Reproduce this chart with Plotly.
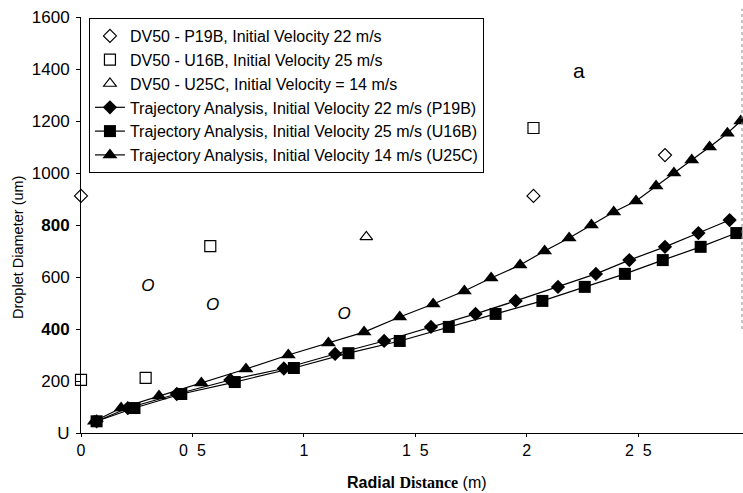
import plotly.graph_objects as go

# ---- data ----
dv50_p19b_x = [0.0, 2.03, 2.62]
dv50_p19b_y = [912, 912, 1069]

dv50_u16b_x = [0.0, 0.29, 0.58, 2.03]
dv50_u16b_y = [204, 212, 719, 1173]

dv50_u25c_x = [1.28]
dv50_u25c_y = [754]

traj22_x = [0.07, 0.21, 0.43, 0.67, 0.91, 1.14, 1.36, 1.57, 1.77, 1.95, 2.14, 2.31, 2.46, 2.62, 2.77, 2.91]
traj22_y = [45, 96, 150, 204, 248, 304, 354, 408, 458, 508, 562, 612, 665, 716, 769, 819]

traj25_x = [0.07, 0.24, 0.45, 0.69, 0.955, 1.20, 1.43, 1.65, 1.86, 2.07, 2.26, 2.44, 2.61, 2.78, 2.94]
traj25_y = [45, 96, 150, 196, 250, 307, 354, 408, 458, 508, 562, 612, 665, 716, 769]

traj14_x = [0.06, 0.18, 0.35, 0.54, 0.74, 0.93, 1.11, 1.27, 1.43, 1.58, 1.72, 1.84, 1.97, 2.08,
            2.19, 2.29, 2.39, 2.49, 2.58, 2.66, 2.74, 2.82, 2.90, 2.96]
traj14_y = [45, 96, 142, 192, 246, 300, 346, 388, 446, 496, 546, 596, 646, 700,
            750, 800, 850, 892, 950, 1000, 1050, 1100, 1153, 1200]

stray_o_x = [0.30, 0.59, 1.18]
stray_o_y = [562, 488, 454]

NB = "\u00a0"
x_tickvals = [0, 0.5, 1, 1.5, 2, 2.5]
x_ticktext = ["0", "0" + NB * 2 + "5", "1", "1" + NB * 2 + "5", "2", "2" + NB * 2 + "5"]
y_tickvals = [0, 200, 400, 600, 800, 1000, 1200, 1400, 1600]
y_ticktext = ["U", "200", "<b>400</b>", "600", "<b>800</b>", "1000", "1200", "1400", "1600"]

names = [
    "DV50 - P19B, Initial Velocity 22 m/s",
    "DV50 - U16B, Initial Velocity 25 m/s",
    "DV50 - U25C, Initial Velocity = 14 m/s",
    "Trajectory Analysis, Initial Velocity 22 m/s (P19B)",
    "Trajectory Analysis, Initial Velocity 25 m/s (U16B)",
    "Trajectory Analysis, Initial Velocity 14 m/s (U25C)",
]

fig = go.Figure()
open_marker = dict(color="white", line=dict(color="black", width=1.2))
fig.add_trace(go.Scatter(x=dv50_p19b_x, y=dv50_p19b_y, mode="markers", name=names[0], legendgroup="a",
                         marker=dict(symbol="diamond", size=10, **open_marker), cliponaxis=False))
fig.add_trace(go.Scatter(x=dv50_u16b_x, y=dv50_u16b_y, mode="markers", name=names[1], legendgroup="b",
                         marker=dict(symbol="square", size=11, **open_marker), cliponaxis=False))
fig.add_trace(go.Scatter(x=dv50_u25c_x, y=dv50_u25c_y, mode="markers", name=names[2], legendgroup="c",
                         marker=dict(symbol="triangle-up", size=11, **open_marker), cliponaxis=False))
fig.add_trace(go.Scatter(x=traj22_x, y=traj22_y, mode="lines+markers", name=names[3], legendgroup="d",
                         line=dict(color="black", width=1.2),
                         marker=dict(symbol="diamond", size=11, color="black"), cliponaxis=False))
fig.add_trace(go.Scatter(x=traj25_x, y=traj25_y, mode="lines+markers", name=names[4], legendgroup="e",
                         line=dict(color="black", width=1.2),
                         marker=dict(symbol="square", size=12, color="black"), cliponaxis=False))
fig.add_trace(go.Scatter(x=traj14_x, y=traj14_y, mode="lines+markers", name=names[5], legendgroup="f",
                         line=dict(color="black", width=1.2),
                         marker=dict(symbol="triangle-up", size=13, color="black"), cliponaxis=False))

fig.add_trace(go.Scatter(x=stray_o_x, y=stray_o_y, mode="text", text=["<i>O</i>"] * 3,
                         textfont=dict(family="Liberation Sans", size=17, color="black"),
                         showlegend=False, hoverinfo="skip"))

fig.update_layout(
    width=743, height=493,
    margin=dict(l=81, r=0, t=17, b=60),
    paper_bgcolor="white", plot_bgcolor="white",
    font=dict(family="Liberation Sans, Arial", color="black"),
    legend=dict(
        x=0.012, y=0.9976, xanchor="left", yanchor="top",
        bgcolor="white", bordercolor="black", borderwidth=1,
        font=dict(family="Liberation Sans, Arial", size=16, color="black"),
        tracegroupgap=0, traceorder="normal",
    ),
    xaxis=dict(
        range=[0, 2.97], tickvals=x_tickvals, ticktext=x_ticktext,
        showgrid=False, zeroline=False, showline=True, linecolor="black", linewidth=1,
        ticks="outside", ticklen=3, tickcolor="black",
        tickfont=dict(size=16, color="black"),
    ),
    yaxis=dict(
        range=[0, 1600], tickvals=y_tickvals, ticktext=y_ticktext,
        showgrid=False, zeroline=False, showline=True, linecolor="black", linewidth=1,
        ticks="outside", ticklen=4, tickcolor="black",
        tickfont=dict(size=17, color="black"), ticklabelstandoff=3,
    ),
    annotations=[
        dict(text="a", x=0.764, y=0.905, xref="paper", yref="paper", showarrow=False,
             font=dict(size=21, color="black")),
        dict(text="Droplet Diameter (um)", textangle=-90, x=-0.095, y=0.445,
             xref="paper", yref="paper", showarrow=False, xanchor="center", yanchor="middle",
             font=dict(size=14.5, color="black")),
        dict(text="<b>Radial</b> <span style=\"font-family:'Liberation Serif'\"><b>Distance</b></span> (m)",
             x=0.508, y=-0.12, xref="paper", yref="paper", showarrow=False,
             xanchor="center", yanchor="middle", font=dict(size=16, color="black")),
    ],
    shapes=[
        dict(type="line", xref="paper", yref="paper", x0=0.9985, x1=0.9985, y0=0.25, y1=1.02,
             line=dict(color="#888888", width=1, dash="dot")),
    ],
)

fig.write_html("out.html")
